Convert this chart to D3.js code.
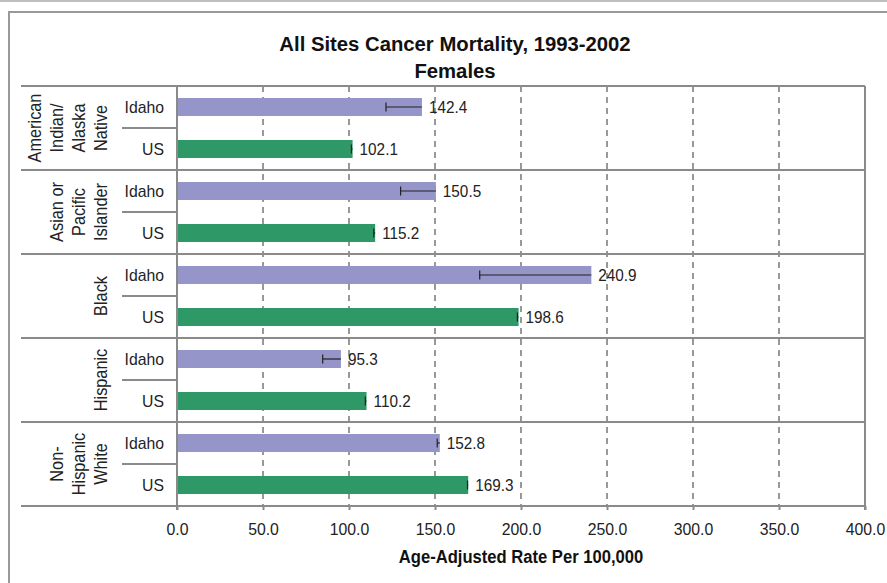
<!DOCTYPE html>
<html>
<head>
<meta charset="utf-8">
<script src="https://cdn.jsdelivr.net/npm/d3@7/dist/d3.min.js"></script>
<style>
  html, body { margin: 0; padding: 0; background: #fff; }
  svg { display: block; font-family: "Liberation Sans", Arial, sans-serif; }
</style>
</head>
<body>
<svg id="chart" width="887" height="583"></svg>
<script>
// ---- data ----
const groupNames = ["American Indian/Alaska Native", "Asian or Pacific Islander", "Black", "Hispanic", "Non-Hispanic White"];
const groupLabelLines = [
  ["American", "Indian/", "Alaska", "Native"],
  ["Asian or", "Pacific", "Islander"],
  ["Black"],
  ["Hispanic"],
  ["Non-", "Hispanic", "White"]
];
const seriesNames = ["Idaho", "US"];
const idahoValues = [142.4, 150.5, 240.9, 95.3, 152.8];
const usValues = [102.1, 115.2, 198.6, 110.2, 169.3];
const idahoLower = [121.5, 130.0, 176.0, 84.7, 151.3];
const usLower = [101.4, 114.4, 197.9, 109.5, 168.9];
const xTicks = [0, 50, 100, 150, 200, 250, 300, 350, 400];
const titleLines = ["All Sites Cancer Mortality, 1993-2002", "Females"];
const xAxisTitle = "Age-Adjusted Rate Per 100,000";
const seriesColors = ["#9595c9", "#2e9967"];

// ---- layout ----
const svg = d3.select("#chart");
const plot = { left: 177, right: 865, top: 86, bottom: 506 };
const SY = 1.1; // slight vertical stretch of text as in the reference

const x = d3.scaleLinear().domain([0, 400]).range([plot.left, plot.right]);
const yGroup = d3.scaleBand().domain(groupNames).range([plot.top, plot.bottom]).padding(0);
const ySeries = d3.scaleBand().domain(seriesNames).range([0, yGroup.bandwidth()])
  .paddingInner(0.571).paddingOuter(0.2855);

const rows = [];
groupNames.forEach((g, i) => {
  rows.push({ group: g, series: "Idaho", value: idahoValues[i], lower: idahoLower[i] });
  rows.push({ group: g, series: "US", value: usValues[i], lower: usLower[i] });
});
const rowY = d => yGroup(d.group) + ySeries(d.series);

// outer frame
svg.append("line").attr("x1", 0).attr("x2", 887).attr("y1", 1).attr("y2", 1)
  .attr("stroke", "#aaa").attr("stroke-width", 1.5);
svg.append("rect").attr("x", 9).attr("y", 12).attr("width", 900).attr("height", 600)
  .attr("fill", "none").attr("stroke", "#999").attr("stroke-width", 2);

// title
svg.selectAll("text.title").data(titleLines).join("text")
  .attr("class", "title")
  .attr("transform", (d, i) => `translate(455,${51 + i * 27}) scale(1,1.04)`)
  .attr("text-anchor", "middle")
  .attr("font-weight", "bold").attr("font-size", 20.3).attr("fill", "#111")
  .text(d => d);

// gridlines (dashed)
svg.append("g").selectAll("line").data(xTicks.filter(t => t > 0 && t < 400)).join("line")
  .attr("x1", d => x(d)).attr("x2", d => x(d))
  .attr("y1", plot.top).attr("y2", plot.bottom)
  .attr("stroke", "#555").attr("stroke-width", 1.2).attr("stroke-dasharray", "6,5");

// bars
svg.append("g").selectAll("rect").data(rows).join("rect")
  .attr("x", x(0))
  .attr("y", d => rowY(d))
  .attr("width", d => x(d.value) - x(0))
  .attr("height", ySeries.bandwidth())
  .attr("fill", d => seriesColors[seriesNames.indexOf(d.series)]);

// error bars (minus direction)
const eb = svg.append("g").attr("stroke", "#222").attr("stroke-width", 1.2);
rows.forEach(d => {
  const cy = rowY(d) + ySeries.bandwidth() / 2;
  eb.append("line").attr("x1", x(d.lower)).attr("x2", x(d.value)).attr("y1", cy).attr("y2", cy);
  eb.append("line").attr("x1", x(d.lower)).attr("x2", x(d.lower)).attr("y1", cy - 4.5).attr("y2", cy + 4.5);
});

// value labels
svg.append("g").selectAll("text").data(rows).join("text")
  .attr("transform", d => `translate(${x(d.value) + 7},${rowY(d) + ySeries.bandwidth() / 2}) scale(1,${SY})`)
  .attr("dy", "0.36em")
  .attr("font-size", 15.3).attr("fill", "#222")
  .text(d => d.value.toFixed(1));

// frame lines: plot right, group separators
const frame = svg.append("g").attr("stroke", "#8a8a8a").attr("stroke-width", 2);
frame.append("line").attr("x1", plot.right).attr("x2", plot.right).attr("y1", plot.top).attr("y2", plot.bottom + 4);
groupNames.forEach(g => {
  frame.append("line").attr("x1", 21).attr("x2", plot.right)
    .attr("y1", yGroup(g)).attr("y2", yGroup(g));
  const mid = yGroup(g) + yGroup.bandwidth() / 2;
  frame.append("line").attr("x1", 122).attr("x2", plot.left).attr("y1", mid).attr("y2", mid);
});
frame.append("line").attr("x1", 21).attr("x2", plot.right).attr("y1", plot.bottom).attr("y2", plot.bottom);
frame.append("line").attr("x1", plot.left).attr("x2", plot.left).attr("y1", plot.top).attr("y2", plot.bottom + 4);

// x axis
const xAxis = d3.axisBottom(x).tickValues(xTicks).tickFormat(d3.format(".1f")).tickSize(4).tickPadding(9);
const ax = svg.append("g").attr("transform", `translate(0,${plot.bottom})`).call(xAxis);
ax.select(".domain").remove();
ax.selectAll(".tick line").attr("stroke", "#8a8a8a").attr("stroke-width", 2);
ax.selectAll(".tick text")
  .attr("y", null).attr("dy", null)
  .attr("transform", `translate(0,29) scale(1,${SY})`)
  .attr("font-size", 15.8).attr("fill", "#222")
  .attr("font-family", "'Liberation Sans', Arial, sans-serif");

// x axis title
svg.append("text")
  .attr("transform", `translate(${(plot.left + plot.right) / 2},563) scale(1,1.05)`)
  .attr("text-anchor", "middle").attr("font-weight", "bold").attr("font-size", 16.6)
  .attr("fill", "#111").text(xAxisTitle);

// series category labels
svg.append("g").selectAll("text").data(rows).join("text")
  .attr("transform", d => `translate(164,${rowY(d) + ySeries.bandwidth() / 2}) scale(1,${SY})`)
  .attr("dy", "0.36em").attr("text-anchor", "end")
  .attr("font-size", 15.8).attr("fill", "#222")
  .text(d => d.series);

// group labels (rotated)
groupNames.forEach((g, i) => {
  const lines = groupLabelLines[i];
  const cy = yGroup(g) + yGroup.bandwidth() / 2;
  lines.forEach((ln, j) => {
    const bx = 107 - (lines.length - 1 - j) * 22;
    svg.append("text")
      .attr("transform", `translate(${bx},${cy}) rotate(-90) scale(1,${SY})`)
      .attr("text-anchor", "middle")
      .attr("font-size", 16.3).attr("fill", "#222")
      .text(ln);
  });
});
</script>
</body>
</html>
